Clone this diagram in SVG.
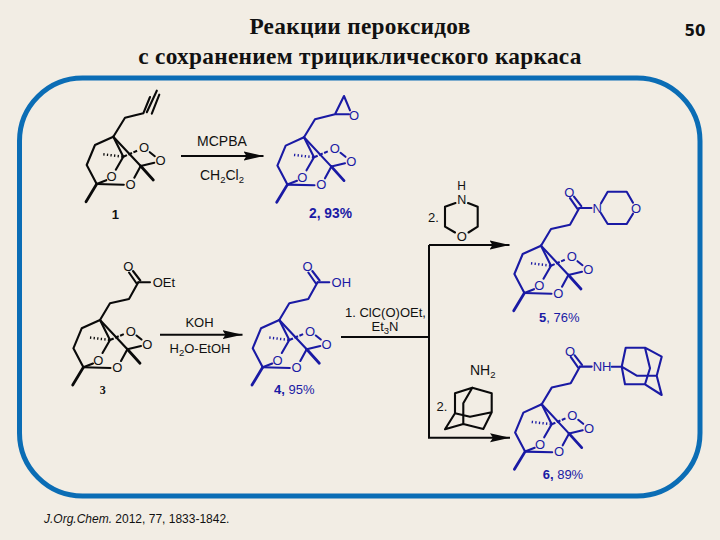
<svg xmlns="http://www.w3.org/2000/svg" xmlns:xlink="http://www.w3.org/1999/xlink" width="720" height="540" viewBox="0 0 720 540">
<style>
text{font-family:"Liberation Sans",Arial,sans-serif;font-size:13px;fill:#111}
.title{font-family:"Liberation Serif","Times New Roman",serif;font-size:23.300px;font-weight:bold;text-anchor:middle;letter-spacing:.3px}
.page{font-family:"DejaVu Sans",sans-serif;font-size:15px;font-weight:bold;text-anchor:middle}
.c{text-anchor:middle}
.a{text-anchor:middle;dominant-baseline:central}
.blue text,text.blue,.blue{fill:#1a1aa4}
.b{font-weight:bold}
.sub{font-size:9.500px}
.bond{fill:none;stroke-linecap:round;stroke-linejoin:round;stroke-width:2.100}
.k{stroke:#0a0a0a}
.bl{stroke:#1a1aa4}
.arrow{fill:none;stroke:#0a0a0a;stroke-width:2;marker-end:url(#head)}
</style>
<defs>
<marker id="head" markerUnits="userSpaceOnUse" markerWidth="21" markerHeight="12" refX="20" refY="6" orient="auto"><path d="M0 1.500 L20 6 L0 10.500 L3 6 Z" fill="#0a0a0a"/></marker>
<g id="core" class="bond">
<path d="M0 0 L-18.300 8.300 L-26.600 28.300 L-16.600 47.300"/>
<path d="M-16.600 47.300 L-27.300 65" stroke-width="2.800"/>
<path d="M0 0 L10 20 L2.500 33"/>
<path d="M0 0 L27.400 29.300"/>
<path d="M-16.600 47.300 L-7 43.500"/>
<path d="M-16.600 47.300 L10.500 48"/>
<path d="M27.400 29.300 L21 41"/>
<path d="M27.400 29.300 L40 43.300" stroke-width="2.800"/>
<path d="M27.400 29.300 L41 26"/>
<path d="M10 20 L24 14" stroke-dasharray="4 1.500" stroke-linecap="butt"/>
<path d="M36.500 15.500 L41.500 19.500"/>
<path d="M-10 17.600 L10 20" stroke-dasharray="1.300 2.300" stroke-linecap="butt" stroke-width="2.500"/>
</g>
<g id="chain" class="bond">
<path d="M0 0 L10 -16.700 L29 -21 L38.300 -37.700"/>
<path d="M36.300 -37 L29 -47.500 M40.300 -39.500 L33 -49"/>
</g>
</defs>
<rect width="720" height="540" fill="#f2ede4"/>
<rect id="frame" x="19.500" y="78" width="680.500" height="418" rx="63" ry="63" fill="none" stroke="#0b6db5" stroke-width="5"/>
<text class="title" x="360" y="34">Реакции пероксидов</text>
<text class="title" x="360" y="64">с сохранением трициклического каркаса</text>
<text class="page" x="695" y="36">50</text>

<g id="connectors">
<path class="arrow" d="M181 156 H263.500"/>
<path class="arrow" d="M160 334.700 H242.500"/>
<path class="arrow" d="M429 245 H509.500"/>
<path class="arrow" d="M429 245 V437.700 H510"/>
<path class="arrow" style="marker-end:none" d="M341 337 H429"/>
</g>

<g id="reagent-1">
<text class="c" x="222" y="146" style="font-size:14px">MCPBA</text>
<text class="c" x="222" y="180" style="font-size:14px">CH<tspan class="sub" dy="3">2</tspan><tspan dy="-3">Cl</tspan><tspan class="sub" dy="3">2</tspan></text>
</g>
<g id="reagent-2">
<text class="c" x="199.500" y="327">KOH</text>
<text class="c" x="200" y="353">H<tspan class="sub" dy="3">2</tspan><tspan dy="-3">O-EtOH</tspan></text>
</g>
<g id="reagent-3">
<text x="345" y="317">1. ClC(O)OEt,</text>
<text class="c" x="385" y="331">Et<tspan class="sub" dy="3">3</tspan><tspan dy="-3">N</tspan></text>
</g>

<g id="compound-1" transform="translate(113.300 136.700)">
<use xlink:href="#core" href="#core" class="k"/>
<path class="bond k" d="M0 0 L11.700 -19 L30 -23.400 L36.700 -39.700 M33.500 -24.500 L43.500 -46 M38.500 -23 L46 -42"/>
<text class="a" x="30.700" y="11">O</text><text class="a" x="47.300" y="24">O</text><text class="a" x="-1.700" y="40">O</text><text class="a" x="17.300" y="47.700">O</text>
<text class="c b" x="2" y="82.300">1</text>
</g>

<g id="compound-2" class="blue" transform="translate(304 137.300)">
<use xlink:href="#core" href="#core" class="bl"/>
<path class="bond bl" d="M0 0 L11 -18 L31 -23 L40 -41.300 L46 -27 M31 -23 L45 -23"/>
<text class="a" x="50" y="-22.300">O</text>
<text class="a" x="30.700" y="11">O</text><text class="a" x="47.300" y="24">O</text><text class="a" x="-1.700" y="40">O</text><text class="a" x="17.300" y="47.700">O</text>
<text class="b" x="5" y="80.700" style="font-size:13.800px">2, 93%</text>
</g>

<g id="compound-3" transform="translate(100 320)">
<use xlink:href="#core" href="#core" class="k"/>
<use xlink:href="#chain" href="#chain" class="k"/>
<path class="bond k" d="M38.300 -37.700 L50 -37.700"/>
<text class="a" x="28.300" y="-53.300">O</text>
<text x="52.700" y="-32.700">OEt</text>
<text class="a" x="30.700" y="11">O</text><text class="a" x="47.300" y="24">O</text><text class="a" x="-1.700" y="40">O</text><text class="a" x="17.300" y="47.700">O</text>
<text class="c b" x="2.700" y="74" style="font-family:'Liberation Serif',serif;font-size:12px">3</text>
</g>

<g id="compound-4" class="blue" transform="translate(279.300 320)">
<use xlink:href="#core" href="#core" class="bl"/>
<use xlink:href="#chain" href="#chain" class="bl"/>
<path class="bond bl" d="M38.300 -37.700 L50 -37.700"/>
<text class="a" x="28.300" y="-53.300">O</text>
<text x="52.300" y="-32.700">OH</text>
<text class="a" x="30.700" y="11">O</text><text class="a" x="47.300" y="24">O</text><text class="a" x="-1.700" y="40">O</text><text class="a" x="17.300" y="47.700">O</text>
<text x="-5.300" y="74"><tspan class="b">4,</tspan> 95%</text>
</g>

<g id="compound-5" class="blue" transform="translate(541 245.700)">
<use xlink:href="#core" href="#core" class="bl"/>
<use xlink:href="#chain" href="#chain" class="bl"/>
<path class="bond bl" d="M38.300 -37.700 L50.500 -37.700 M60 -42.500 L66.700 -54 H85.700 L92 -43 M92 -32 L85.700 -21.700 H66.700 L60 -32.500"/>
<text class="a" x="28.300" y="-53.300">O</text>
<text class="a" x="56.300" y="-37.400">N</text>
<text class="a" x="95" y="-37.400">O</text>
<text class="a" x="30.700" y="11">O</text><text class="a" x="47.300" y="24">O</text><text class="a" x="-1.700" y="40">O</text><text class="a" x="17.300" y="47.700">O</text>
<text x="-2" y="76.300"><tspan class="b">5</tspan>, 76%</text>
</g>

<g id="compound-6" class="blue" transform="translate(541.700 404.300)">
<use xlink:href="#core" href="#core" class="bl"/>
<use xlink:href="#chain" href="#chain" class="bl"/>
<path class="bond bl" d="M38.300 -37.700 L50 -37.700"/>
<text class="a" x="28.300" y="-53.300">O</text>
<text x="51" y="-33">NH</text>
<path class="bond bl" d="M70 -37.600 H80 L84 -56.600 H103.300 L120 -47.600 L115 -28.600 L120 -9.300 L103.300 -20 H83.300 L80 -37.600 L95 -28.600 H115 M103.300 -56.600 L108.300 -36 L103.300 -20"/>
<text class="a" x="30.700" y="11">O</text><text class="a" x="47.300" y="24">O</text><text class="a" x="-1.700" y="40">O</text><text class="a" x="17.300" y="47.700">O</text>
<text x="1" y="74.700"><tspan class="b">6,</tspan> 89%</text>
</g>

<g id="morpholine">
<path class="bond k" d="M455.500 203 L445 206.700 V226.700 L455 232.500 M468.500 232.500 L477.700 226.700 V206.700 L468 203"/>
<text class="a" x="461.700" y="185.500" style="font-size:12px">H</text>
<text class="a" x="461.700" y="199.500" style="font-size:12.500px">N</text>
<text class="a" x="461.700" y="236">O</text>
<text x="428" y="222">2.</text>
</g>

<g id="adamantane">
<path class="bond k" d="M472.300 387.700 L455 393.300 V413.300 L445 429.300 L463.300 424 L483.300 429 L491.700 412.300 V393.300 L472.300 387.700 L463.300 403.300 V424 M455 413.300 L470 416.700 L491.700 412.300"/>
<text x="470" y="375" style="font-size:14px">NH<tspan class="sub" dy="3">2</tspan></text>
<text x="436.500" y="411">2.</text>
</g>

<text id="citation" x="44" y="522.700" style="font-size:12px"><tspan font-style="italic">J.Org.Chem.</tspan> 2012, 77, 1833-1842.</text>
</svg>
